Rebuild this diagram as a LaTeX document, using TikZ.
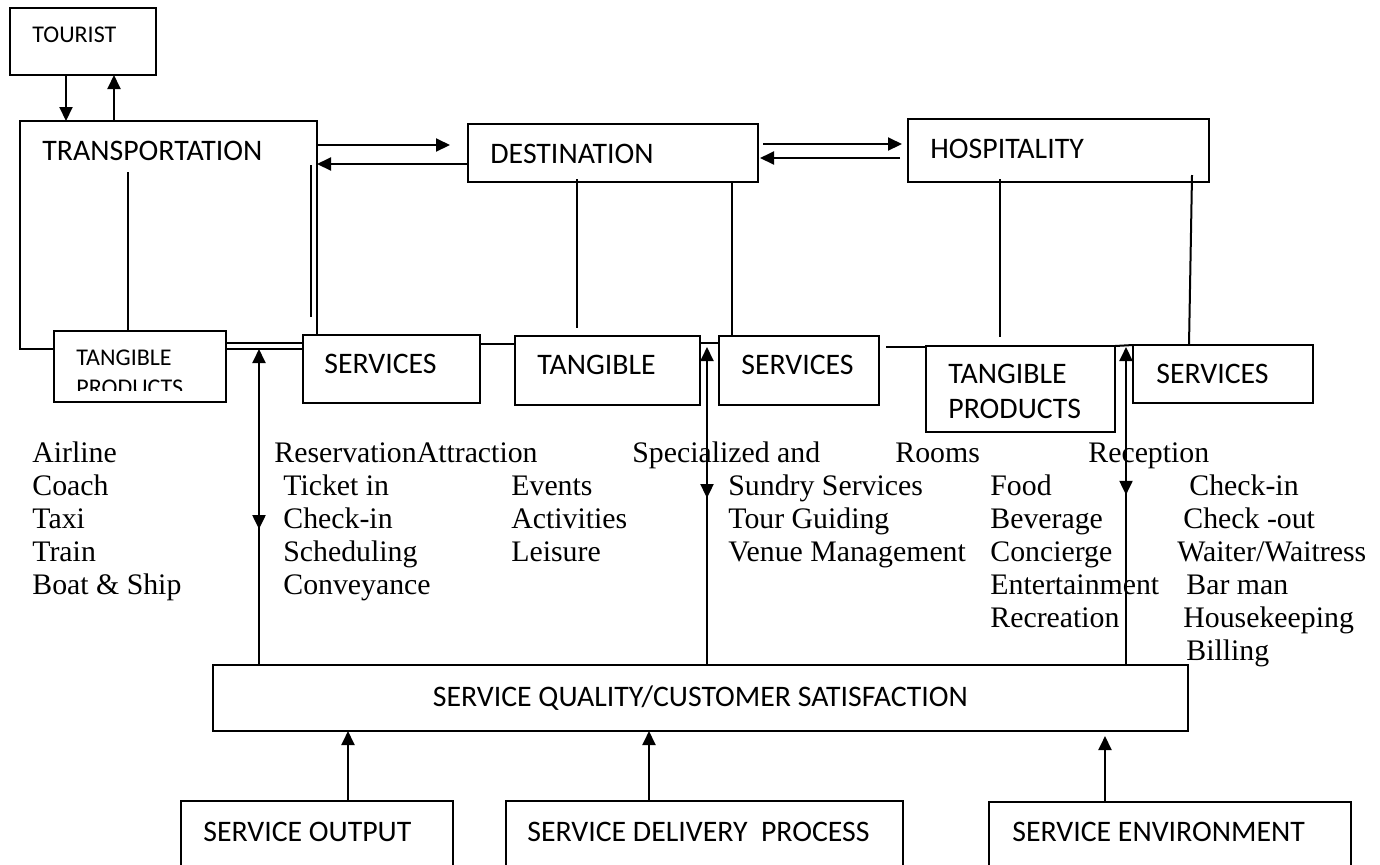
\documentclass[tikz,border=0pt]{standalone}
\usepackage{fontspec}
\setmainfont{Liberation Serif}
\newfontfamily\calibri{Carlito}
\usetikzlibrary{arrows.meta,decorations.markings}
\begin{document}
\begin{tikzpicture}
[x=0.5pt,y=-0.5pt,
  boxdecorate/.style={draw,line width=1pt,fill=white,inner sep=0pt,outer sep=0pt},%
  labdecorate/.style={font=\calibri\fontsize{14.9}{17}\selectfont,inner sep=0pt,anchor=base west},%
  smalllab/.style={font=\calibri\fontsize{12}{14}\selectfont,inner sep=0pt,anchor=base west},%
  itemdecorate/.style={font=\fontsize{14.9}{16}\selectfont,inner sep=0pt,anchor=base west},%
  linedecorate/.style={-,line width=1pt},%
  arrowdecorate/.style={-{Triangle[length=7pt,width=6.5pt]},line width=1pt},%
  backhead/.style={postaction={decorate},decoration={markings,
    mark=at position #1 with {\arrowreversed{Triangle[length=7pt,width=6.5pt]}}}}]
\useasboundingbox (0,0) rectangle (1380,864);
\clip (0,0) rectangle (1380,864);
%%% top row
% boxes
\node (tourist) at (83,41.5) [boxdecorate,minimum width=73pt,minimum height=33.5pt] {};
\node (trans) at (168.5,235) [boxdecorate,minimum width=148.5pt,minimum height=114pt] {};
\node (dest) at (613,153) [boxdecorate,minimum width=145pt,minimum height=29pt] {};
\node (hosp) at (1058.5,150.5) [boxdecorate,minimum width=150.5pt,minimum height=31.5pt] {};
% labels
\node (ltourist) at (32,42) [smalllab] {TOURIST};
\node (ltrans) at (42,160) [labdecorate] {TRANSPORTATION};
\node (ldest) at (490,163) [labdecorate] {DESTINATION};
\node (lhosp) at (930,158) [labdecorate] {HOSPITALITY};
%
%%% products and services row
% boxes
\node (tang1) at (140,366.5) [boxdecorate,minimum width=86pt,minimum height=35.5pt] {};
\node (serv1) at (391.5,369) [boxdecorate,minimum width=88.5pt,minimum height=34pt] {};
\node (tang2) at (607.5,370.5) [boxdecorate,minimum width=92.5pt,minimum height=34.5pt] {};
\node (serv2) at (799,370.5) [boxdecorate,minimum width=80pt,minimum height=34.5pt] {};
\node (tang3) at (1020.5,389) [boxdecorate,minimum width=94.5pt,minimum height=43pt] {};
\node (serv3) at (1223,374) [boxdecorate,minimum width=90pt,minimum height=29pt] {};
% labels
\node (ltang1) at (76,365) [smalllab] {TANGIBLE};
\begin{scope}
\clip (tang1.north west) rectangle ([yshift=6pt]tang1.south east);
\node (lprod1) at (76,395) [smalllab] {PRODUCTS};
\end{scope}
\node (lserv1) at (324,373) [labdecorate] {SERVICES};
\node (ltang2) at (537,374) [labdecorate] {TANGIBLE};
\node (lserv2) at (741,374) [labdecorate] {SERVICES};
\node (ltang3) at (948,383) [labdecorate] {TANGIBLE};
\node (lprod3) at (948,418) [labdecorate] {PRODUCTS};
\node (lserv3) at (1156,383) [labdecorate] {SERVICES};
%
%%% lists
\node (airline) at (32,462) [itemdecorate] {Airline};
\node (coach) at (32,495) [itemdecorate] {Coach};
\node (taxi) at (32,528) [itemdecorate] {Taxi};
\node (train) at (32,561) [itemdecorate] {Train};
\node (boat) at (32,594) [itemdecorate] {Boat \& Ship};
\node (reserv) at (274,462) [itemdecorate] {ReservationAttraction};
\node (ticket) at (283,495) [itemdecorate] {Ticket in};
\node (checkin) at (283,528) [itemdecorate] {Check-in};
\node (sched) at (283,561) [itemdecorate] {Scheduling};
\node (convey) at (283,594) [itemdecorate] {Conveyance};
\node (events) at (511,495) [itemdecorate] {Events};
\node (activ) at (511,528) [itemdecorate] {Activities};
\node (leisure) at (511,561) [itemdecorate] {Leisure};
\node (special) at (632,462) [itemdecorate] {Specialized and};
\node (sundry) at (728,495) [itemdecorate] {Sundry Services};
\node (tour) at (728,528) [itemdecorate] {Tour Guiding};
\node (venue) at (728,561) [itemdecorate] {Venue Management};
\node (rooms) at (895,462) [itemdecorate] {Rooms};
\node (food) at (990,495) [itemdecorate] {Food};
\node (bever) at (990,528) [itemdecorate] {Beverage};
\node (concier) at (990,561) [itemdecorate] {Concierge};
\node (entert) at (990,594) [itemdecorate] {Entertainment};
\node (recre) at (990,627) [itemdecorate] {Recreation};
\node (recep) at (1088,462) [itemdecorate] {Reception};
\node (hcheckin) at (1189,495) [itemdecorate] {Check-in};
\node (hcheckout) at (1183,528) [itemdecorate] {Check -out};
\node (waiter) at (1177,561) [itemdecorate] {Waiter/Waitress};
\node (barman) at (1186,594) [itemdecorate] {Bar man};
\node (housek) at (1183,627) [itemdecorate] {Housekeeping};
\node (billing) at (1186,660) [itemdecorate] {Billing};
%
%%% quality and its inputs
\node (sq) at (700.5,698) [boxdecorate,minimum width=487.5pt,minimum height=33pt,
  font=\calibri\fontsize{14.9}{17}\selectfont] {SERVICE QUALITY/CUSTOMER SATISFACTION};
\node (out) at (317,850.5) [boxdecorate,minimum width=136pt,minimum height=49.5pt] {};
\node (deliv) at (704.5,850.5) [boxdecorate,minimum width=198.5pt,minimum height=49.5pt] {};
\node (env) at (1170,851) [boxdecorate,minimum width=181pt,minimum height=49pt] {};
\node (lout) at (203,841) [labdecorate] {SERVICE OUTPUT};
\node (ldeliv) at (527,841) [labdecorate] {SERVICE DELIVERY\ \ PROCESS};
\node (lenv) at (1012,841) [labdecorate] {SERVICE ENVIRONMENT};
%
%%% arrows between the top boxes
\path
([xshift=-8.5pt]tourist.south) edge[arrowdecorate] ([xshift=-51.25pt]trans.north)
([xshift=-27.25pt]trans.north) edge[arrowdecorate] ([xshift=15.5pt]tourist.south)
([yshift=45pt]trans.east) edge[arrowdecorate] ([xshift=-9pt,yshift=4pt]dest.west)
([yshift=-5.5pt]dest.west) edge[arrowdecorate] ([yshift=35.5pt]trans.east)
([xshift=2.5pt,yshift=4.5pt]dest.east) edge[arrowdecorate] ([xshift=-3pt,yshift=3.25pt]hosp.west)
([xshift=-4pt,yshift=-3.75pt]hosp.west) edge[arrowdecorate] ([xshift=1pt,yshift=-2.5pt]dest.east);
% lines down to products and services
\path
([xshift=-20.25pt,yshift=-25.5pt]trans.north) edge[linedecorate] ([xshift=-6pt]tang1.north)
([xshift=-3pt,yshift=35pt]trans.east) edge[linedecorate] ([xshift=-3pt,yshift=-41pt]trans.east)
([xshift=-18pt,yshift=1.5pt]dest.south) edge[linedecorate] ([xshift=-15.25pt,yshift=4pt]tang2.north)
([xshift=59.5pt]dest.south) edge[linedecorate] ([xshift=-33.5pt]serv2.north)
([xshift=-29.25pt,yshift=1.5pt]hosp.south) edge[linedecorate] ([xshift=-10.25pt,yshift=4.5pt]tang3.north)
([xshift=66.75pt,yshift=3.5pt]hosp.south) edge[linedecorate] ([xshift=-17pt]serv3.north);
% lines along the row
\path
([yshift=11.75pt]tang1.east) edge[linedecorate] ([yshift=13pt]serv1.west)
([yshift=12.5pt]serv1.east) edge[linedecorate] ([yshift=13.25pt]tang2.west)
([yshift=13.75pt]tang2.east) edge[linedecorate] ([yshift=13.75pt]serv2.west)
([xshift=3.5pt,yshift=11.75pt]serv2.east) edge[linedecorate] ([yshift=-0.5pt]tang3.north west)
(tang3.north east) edge[linedecorate] (serv3.north west);
% arrows from service quality
\path
([xshift=-220.75pt]sq.north) edge[arrowdecorate,backhead=0.43] ([xshift=45.25pt]trans.south)
([xshift=3.25pt]sq.north) edge[arrowdecorate,backhead=0.525] ([xshift=3.5pt,yshift=11.75pt]tang2.east)
([xshift=212.75pt]sq.north) edge[arrowdecorate,backhead=0.535] ([xshift=5.5pt,yshift=-0.5pt]tang3.north east);
% arrows into service quality
\path
([xshift=15.5pt]out.north) edge[arrowdecorate] ([xshift=-176.25pt]sq.south)
([xshift=-27.75pt]deliv.north) edge[arrowdecorate] ([xshift=-25.75pt]sq.south)
([xshift=-32.5pt]env.north) edge[arrowdecorate] ([xshift=202.25pt,yshift=-2.5pt]sq.south);
\end{tikzpicture}
\end{document}
